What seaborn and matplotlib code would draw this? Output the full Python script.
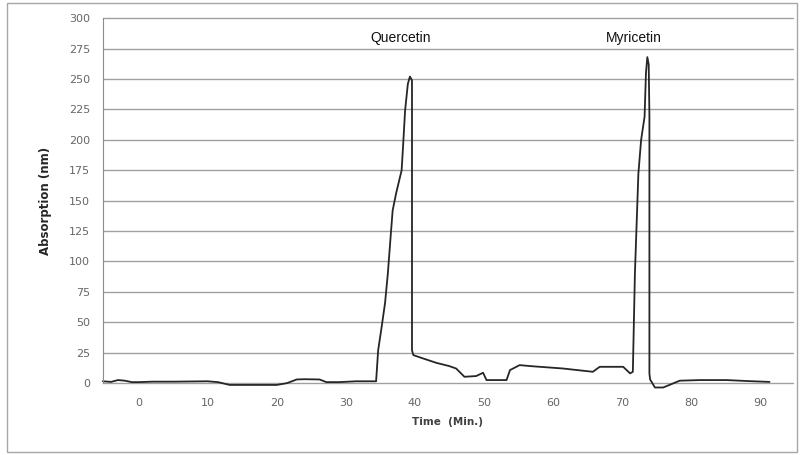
import numpy as np
import pandas as pd
import matplotlib
matplotlib.use("Agg")
import matplotlib.pyplot as plt
import seaborn as sns
from matplotlib.patches import Rectangle

# chromatogram trace
time_min = [-5.2, -4.0, -3.0, -2.0, -1.0, 0.0, 2.0, 5.0, 10.0, 11.5,
            13.2, 16.0, 20.0, 21.5, 22.9, 24.0, 26.2, 27.2, 29.0, 31.5,
            34.4, 34.7, 35.2, 35.7, 36.1, 36.5, 36.8, 37.3, 38.1, 38.3,
            38.6, 39.0, 39.3, 39.6, 39.6, 39.8, 41.2, 43.1,
            45.0, 46.0, 47.2, 48.9, 49.9, 50.4, 53.3, 53.8, 55.2, 56.7,
            61.5, 65.8, 66.8, 70.2, 71.2, 71.6, 71.9, 72.4, 72.8, 73.3,
            73.5, 73.7, 73.9, 74.0, 74.0, 74.1, 74.8, 76.0, 77.2, 78.4,
            81.3, 85.2, 88.6, 91.4]
absorption = [1.5, 1.0, 2.5, 2.0, 0.8, 0.8, 1.2, 1.2, 1.5, 0.8,
              -1.5, -1.5, -1.5, 0.0, 3.0, 3.2, 3.0, 0.8, 0.8, 1.5,
              1.5, 27.0, 46.0, 66.0, 90.0, 120.0, 142.0, 156.0, 175.0, 194.0,
              224.0, 246.0, 252.0, 249.0, 27.0, 23.0, 20.3, 16.7,
              14.0, 12.0, 5.2, 5.8, 8.5, 2.5, 2.5, 10.7, 14.8, 14.0,
              12.0, 9.3, 13.4, 13.4, 8.0, 9.3, 90.0, 172.0, 200.0, 219.0,
              255.0, 268.0, 262.0, 220.0, 8.0, 3.0, -3.6, -3.6, -0.8, 2.0,
              2.5, 2.5, 1.6, 1.0]

peak_names = ["Quercetin", "Myricetin"]
peak_times = [38.0, 71.7]
peak_label_y = 278

x_ticks = list(range(0, 100, 10))
y_ticks = list(range(0, 325, 25))

df = pd.DataFrame({"time": time_min, "absorption": absorption})

sns.set_style("white")
plt.rcParams["font.family"] = ["DejaVu Sans"]

fig = plt.figure(figsize=(8.03, 4.55), dpi=100)
ax = fig.add_axes([0.128, 0.158, 0.8595, 0.802])

# outer frame like the spreadsheet chart area
fig.patches.append(Rectangle((0.009, 0.007), 0.983, 0.987, transform=fig.transFigure,
                             fill=False, edgecolor="#a6a6a6", linewidth=1.0))

for yv in y_ticks:
    ax.axhline(yv, color="#a0a0a0", linewidth=1.0, zorder=0)

sns.lineplot(data=df, x="time", y="absorption", sort=False, estimator=None,
             color="#262626", linewidth=1.3, ax=ax)
for ln in ax.get_lines():
    ln.set_clip_on(False)

for name, t in zip(peak_names, peak_times):
    ax.text(t, peak_label_y, name, ha="center", va="bottom", fontsize=10,
            family=["Liberation Sans Narrow", "Liberation Sans", "DejaVu Sans"],
            color="#111111")

ax.set_xlim(-5.2, 94.8)
ax.set_ylim(0, 300)
ax.set_xticks(x_ticks)
ax.set_yticks(y_ticks)
ax.tick_params(axis="both", labelsize=8, colors="#7f7f7f", length=3, width=0.8)
for lab in ax.get_xticklabels() + ax.get_yticklabels():
    lab.set_color("#666666")
ax.tick_params(axis="x", pad=8)
ax.tick_params(axis="y", pad=6)

for side in ["top", "right", "bottom"]:
    ax.spines[side].set_visible(False)
ax.spines["left"].set_color("#8c8c8c")

ax.set_xlabel("Time  (Min.)", fontsize=7.5, fontweight="bold", color="#404040", labelpad=6)
ax.set_ylabel("Absorption (nm)", fontsize=8.5, fontweight="bold", color="#262626", labelpad=12)

fig.savefig("out.png", dpi=100)
